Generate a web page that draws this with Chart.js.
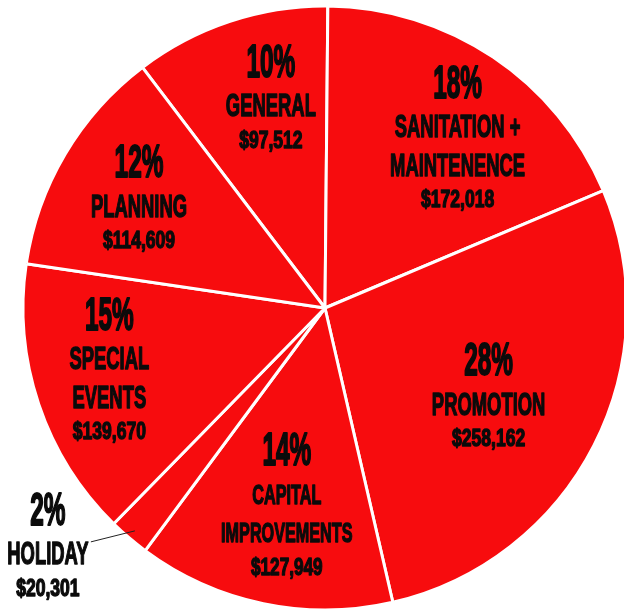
<!DOCTYPE html>
<html>
<head>
<meta charset="utf-8">
<title>Budget pie</title>
<script src="https://cdn.jsdelivr.net/npm/chart.js@4/dist/chart.umd.min.js"></script>
<style>
    html, body { margin: 0; padding: 0; background: #fff; overflow: hidden; }
    #wrap { position: absolute; left: 0; top: 0; width: 650px; height: 616px; }
</style>
</head>
<body>
<div id="wrap"><canvas id="budgetChart"></canvas></div>
<script>
// Budget categories, clockwise from the top-left slice
const categories = ["GENERAL", "SANITATION + MAINTENENCE", "PROMOTION", "CAPITAL IMPROVEMENTS", "HOLIDAY", "SPECIAL EVENTS", "PLANNING"];
const labelLines = [["GENERAL"], ["SANITATION +", "MAINTENENCE"], ["PROMOTION"], ["CAPITAL", "IMPROVEMENTS"], ["HOLIDAY"], ["SPECIAL", "EVENTS"], ["PLANNING"]];
const amounts = [97512, 172018, 258162, 127949, 20301, 139670, 114609];

const RED = "#F70C0E";
const INK = "#0b0b0b";

// where each label sits: fraction of the radius and a small angle nudge (deg)
const labelSpots = [
    { f: 0.712, a: 3.75 },
    { f: 0.708, a: 4.5 },
    { f: 0.619, a: 1.85 },
    { f: 0.673, a: -0.95, s: 0.88 },
    { outside: true },
    { f: 0.745, a: 2 },
    { f: 0.712, a: -0.5 }
];

const total = amounts.reduce((a, b) => a + b, 0);

// draw text squeezed horizontally, y is the middle of the capitals
function squeezed(ctx, text, x, y, size, sx) {
    ctx.save();
    ctx.font = "bold " + size + "px 'Liberation Sans', Arial, sans-serif";
    ctx.textAlign = "center";
    ctx.textBaseline = "alphabetic";
    ctx.translate(x, y + size * 0.716 / 2);
    ctx.scale(sx, 1);
    ctx.fillStyle = INK;
    ctx.strokeStyle = INK;
    ctx.lineJoin = "round";
    ctx.lineWidth = size > 40 ? 2 : 1.4;
    ctx.fillText(text, 0, 0);
    ctx.strokeText(text, 0, 0);
    ctx.restore();
}

function drawBlock(ctx, i, cx, cy, k) {
    const pct = Math.round(amounts[i] / total * 100) + "%";
    const names = labelLines[i];
    const money = "$" + amounts[i].toLocaleString("en-US");
    // vertical offsets of each line centre
    const rows = [];
    let y = 0;
    rows.push({ t: pct, y: y, size: 46, sx: 0.53 });
    y += 45;
    names.forEach((n, j) => {
        if (j > 0) y += 38.5;
        rows.push({ t: n, y: y, size: 30.7 * k, sx: 0.6 });
    });
    y += 34;
    rows.push({ t: money, y: y, size: 23.7 * (k < 1 ? 1.03 : 1), sx: 0.74 * (k < 1 ? 0.95 : 1) });
    const mid = y / 2;
    rows.forEach(r => squeezed(ctx, r.t, cx, cy + r.y - mid, r.size, r.sx));
}

const sliceLabels = {
    id: "sliceLabels",
    afterDatasetsDraw(chart) {
        const ctx = chart.ctx;
        const arcs = chart.getDatasetMeta(0).data;
        arcs.forEach((arc, i) => {
            const p = arc.getProps(["x", "y", "startAngle", "endAngle", "outerRadius"], true);
            const spot = labelSpots[i];
            const mid = (p.startAngle + p.endAngle) / 2;
            if (spot.outside) {
                const sx = p.x + Math.cos(mid) * p.outerRadius * 0.97;
                const sy = p.y + Math.sin(mid) * p.outerRadius * 0.97;
                ctx.save();
                ctx.strokeStyle = "#222";
                ctx.lineWidth = 1;
                ctx.beginPath();
                ctx.moveTo(sx, sy);
                ctx.lineTo(sx - 44, sy + 11);
                ctx.stroke();
                ctx.restore();
                drawBlock(ctx, i, sx - 87, sy + 17, 1);
                return;
            }
            const ang = mid + spot.a * Math.PI / 180;
            const r = p.outerRadius * spot.f;
            drawBlock(ctx, i, p.x + Math.cos(ang) * r, p.y + Math.sin(ang) * r, spot.s || 1);
        });
    }
};

new Chart(document.getElementById("budgetChart"), {
    type: "pie",
    data: {
        labels: categories,
        datasets: [{
            data: amounts,
            backgroundColor: RED,
            borderColor: "#ffffff",
            borderWidth: 3
        }]
    },
    options: {
        responsive: true,
        maintainAspectRatio: false,
        animation: false,
        rotation: -37.2,
        radius: 302,
        plugins: {
            legend: { display: false },
            tooltip: { enabled: false }
        }
    },
    plugins: [sliceLabels]
});
</script>
</body>
</html>
